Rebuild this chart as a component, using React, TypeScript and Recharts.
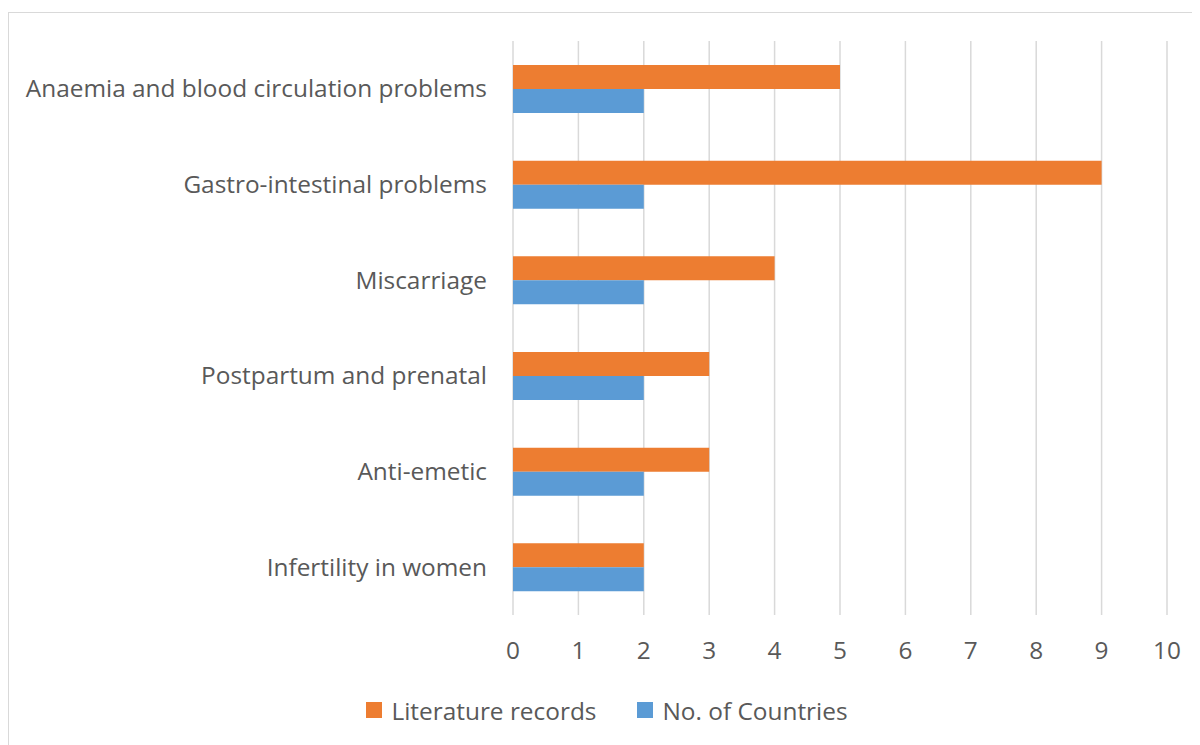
import { Bar, BarChart, CartesianGrid, Legend, XAxis, YAxis } from "recharts";

const categories = [
  "Anaemia and blood circulation problems",
  "Gastro-intestinal problems",
  "Miscarriage",
  "Postpartum and prenatal",
  "Anti-emetic",
  "Infertility in women",
];
const literatureRecords = [5, 9, 4, 3, 3, 2];
const noOfCountries = [2, 2, 2, 2, 2, 2];
const xTicks = [0, 1, 2, 3, 4, 5, 6, 7, 8, 9, 10];

const ORANGE = "#ED7D31";
const BLUE = "#5B9BD5";
const TEXT = "#595959";
const FONT = "'Open Sans', sans-serif";
const FS = 24.4;

const data = categories.map((name, i) => ({
  name,
  literature: literatureRecords[i],
  countries: noOfCountries[i],
}));

const legendItems = [
  { label: "Literature records", color: ORANGE },
  { label: "No. of Countries", color: BLUE },
];

function LegendBox() {
  return (
    <div
      style={{
        height: 30,
        display: "flex",
        justifyContent: "center",
        alignItems: "center",
        gap: 41,
        fontFamily: FONT,
        fontSize: FS,
        color: TEXT,
        paddingLeft: 38,
      }}
    >
      {legendItems.map((it) => (
        <div key={it.label} style={{ display: "flex", alignItems: "center" }}>
          <span style={{ width: 16, height: 16, background: it.color, marginRight: 9, display: "inline-block" }} />
          <span>{it.label}</span>
        </div>
      ))}
    </div>
  );
}

export default function App() {
  return (
    <div
      style={{
        position: "relative",
        top: 4,
        width: 1200,
        height: 745,
        border: "1px solid #d9d9d9",
        background: "#fff",
      }}
    >
      <BarChart
        width={1192}
        height={730}
        data={data}
        layout="vertical"
        barGap={0}
        margin={{ top: 28, right: 34, bottom: 18, left: 0 }}
      >
        <CartesianGrid horizontal={false} stroke="#d9d9d9" strokeWidth={1.5} />
        <XAxis
          type="number"
          domain={[0, 10]}
          ticks={xTicks}
          axisLine={false}
          tickLine={false}
          tickSize={0}
          tickMargin={27}
          height={80}
          tick={{ fill: TEXT, fontSize: FS, fontFamily: FONT }}
        />
        <YAxis
          type="category"
          dataKey="name"
          width={504}
          axisLine={false}
          tickLine={false}
          tickSize={0}
          tickMargin={26}
          tick={{ fill: TEXT, fontSize: FS, fontFamily: FONT }}
        />
        <Legend verticalAlign="bottom" content={() => <LegendBox />} />
        <Bar dataKey="literature" name="Literature records" fill={ORANGE} barSize={24} isAnimationActive={false} />
        <Bar dataKey="countries" name="No. of Countries" fill={BLUE} barSize={24} isAnimationActive={false} />
      </BarChart>
    </div>
  );
}
